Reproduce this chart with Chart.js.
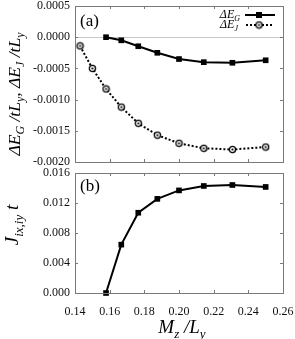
<!DOCTYPE html>
<html><head><meta charset="utf-8">
<script src="https://cdn.jsdelivr.net/npm/chart.js@4"></script>
<style>html,body{margin:0;padding:0;background:#fff}canvas{display:block}</style>
</head><body>
<canvas id="ca" width="295" height="168"></canvas>
<canvas id="cb" width="295" height="171"></canvas>
<script>
// ---- data ----
const mzLy   = [0.1429, 0.1500, 0.1579, 0.1667, 0.1765, 0.1875, 0.2000, 0.2143, 0.2308, 0.2500];
const dEG    = [null, null, 0.00000, -0.00005, -0.000145, -0.00025, -0.00035, -0.00040, -0.00041, -0.00037];
const dEJ    = [-0.00014, -0.00050, -0.00083, -0.00112, -0.00138, -0.00157, -0.00170, -0.00178, -0.00180, -0.00176];
const jIxIy  = [null, null, 0.0000, 0.00645, 0.0107, 0.01255, 0.01368, 0.01427, 0.0144, 0.01414];
const xTickVals  = [0.14, 0.16, 0.18, 0.20, 0.22, 0.24, 0.26];
const yTickValsA = [-0.0020, -0.0015, -0.0010, -0.0005, 0.0000, 0.0005];
const yTickValsB = [0.000, 0.004, 0.008, 0.012, 0.016];

const FF = '"Liberation Serif", "DejaVu Serif", serif';
const BORDER = '#7a7a7a';

function pts(ys){ const o=[]; ys.forEach((y,i)=>{ if(y!==null) o.push({x:mzLy[i], y}); }); return o; }

// circle-with-dot marker
const circ = document.createElement('canvas');
circ.width = 9; circ.height = 9;
(function(){ const c = circ.getContext('2d');
  c.beginPath(); c.arc(4.5,4.5,3.1,0,Math.PI*2); c.fillStyle='#fff'; c.fill();
  c.lineWidth=1.3; c.strokeStyle='#000'; c.stroke();
  c.beginPath(); c.arc(4.5,4.5,1.1,0,Math.PI*2); c.fillStyle='#000'; c.fill(); })();

function rich(ctx, segs, x, y, size, align){
  const fm = `italic ${size}px ${FF}`, fs = `italic ${Math.round(size*0.66)}px ${FF}`;
  let w = 0;
  const ws = segs.map(s => { ctx.font = s[1] ? fs : fm; const m = ctx.measureText(s[0]).width; w += m; return m; });
  let cx = align==='center' ? x - w/2 : (align==='right' ? x - w : x);
  ctx.textAlign='left'; ctx.textBaseline='alphabetic'; ctx.fillStyle='#000';
  segs.forEach((s,i)=>{ ctx.font = s[1] ? fs : fm; ctx.fillText(s[0], cx, y + (s[1] ? size*0.25 : 0)); cx += ws[i]; });
}

const frame = {
  id:'frame',
  afterDatasetsDraw(chart){
    const {ctx, chartArea:a, scales:{x,y}} = chart;
    ctx.save();
    ctx.strokeStyle = BORDER; ctx.lineWidth = 1;
    ctx.strokeRect(Math.round(a.left)+0.5, Math.round(a.top)+0.5, Math.round(a.right-a.left), Math.round(a.bottom-a.top));
    ctx.beginPath();
    x.ticks.forEach(t=>{ const p = Math.round(x.getPixelForValue(t.value))+0.5;
      ctx.moveTo(p, a.bottom); ctx.lineTo(p, a.bottom-3); ctx.moveTo(p, a.top); ctx.lineTo(p, a.top+3); });
    y.ticks.forEach(t=>{ const p = Math.round(y.getPixelForValue(t.value))+0.5;
      ctx.moveTo(a.left, p); ctx.lineTo(a.left+3, p); ctx.moveTo(a.right, p); ctx.lineTo(a.right-3, p); });
    ctx.stroke();
    ctx.restore();
  }
};

function baseOpts(yTicks, fmt, showX, xH, padTop){
  return {
    responsive:false, devicePixelRatio:1, animation:false,
    layout:{padding:{left:0, right:12, top:padTop, bottom:0}},
    plugins:{legend:{display:false}, tooltip:{enabled:false}},
    scales:{
      x:{type:'linear', min:0.14, max:0.26,
         afterBuildTicks(s){ s.ticks = xTickVals.map(v=>({value:v})); },
         afterFit(s){ s.height = xH; s.paddingLeft=0; s.paddingRight=0; },
         grid:{display:false}, border:{display:false},
         ticks:{display:showX, padding:4, maxRotation:0, color:'#111', font:{family:FF, size:12},
                callback:v=>v.toFixed(2)}},
      y:{type:'linear', min:yTicks[0], max:yTicks[yTicks.length-1],
         afterBuildTicks(s){ s.ticks = yTicks.map(v=>({value:v})); },
         afterFit(s){ s.width = 75; s.paddingTop=0; s.paddingBottom=0; },
         border:{display:false},
         grid:{drawTicks:false, lineWidth:1, color:c=> (fmt===4 && Math.abs(c.tick.value)<1e-12) ? '#c8c8c8' : 'rgba(0,0,0,0)'},
         ticks:{padding:5, color:'#111', font:{family:FF, size:12},
                callback:v=> Math.abs(v)<1e-12 ? (0).toFixed(fmt) : v.toFixed(fmt)}}
    }
  };
}

// ---- top panel ----
const optA = baseOpts(yTickValsA, 4, false, 6, 6);
new Chart(document.getElementById('ca'), {
  type:'line',
  data:{datasets:[
    {label:'ΔE_G', data:pts(dEG), borderColor:'#000', backgroundColor:'#000', borderWidth:2,
     pointStyle:'rect', pointRadius:4, pointBorderWidth:0, clip:false, tension:0},
    {label:'ΔE_J', data:pts(dEJ), borderColor:'#000', borderWidth:2, borderDash:[2,2],
     pointStyle:circ, pointRadius:4, clip:false, tension:0}
  ]},
  options:optA,
  plugins:[frame, {id:'decoA', afterDraw(chart){
    const ctx = chart.ctx; ctx.save();
    ctx.font = `17px ${FF}`; ctx.fillStyle='#000'; ctx.textAlign='left'; ctx.textBaseline='alphabetic';
    ctx.fillText('(a)', 80, 26);
    // legend
    rich(ctx, [['ΔE',0],['G',1]], 240, 18, 12, 'right');
    ctx.strokeStyle='#000'; ctx.lineWidth=2; ctx.beginPath(); ctx.moveTo(245,15); ctx.lineTo(275,15); ctx.stroke();
    ctx.fillStyle='#000'; ctx.fillRect(256,12,6,6);
    rich(ctx, [['ΔE',0],['J',1]], 238, 28, 12, 'right');
    ctx.setLineDash([2,2]); ctx.beginPath(); ctx.moveTo(246,25); ctx.lineTo(272,25); ctx.stroke(); ctx.setLineDash([]);
    ctx.drawImage(circ, 259-4.5, 25-4.5);
    // y title
    ctx.translate(20, 94); ctx.rotate(-Math.PI/2);
    rich(ctx, [['ΔE',0],['G',1],[' /tL',0],['y',1],[', ΔE',0],['J',1],[' /tL',0],['y',1]], 0, 0, 17.5, 'center');
    ctx.restore();
  }}]
});

// ---- bottom panel ----
const optB = baseOpts(yTickValsB, 3, true, 46, 5);
new Chart(document.getElementById('cb'), {
  type:'line',
  data:{datasets:[
    {label:'J', data:pts(jIxIy), borderColor:'#000', backgroundColor:'#000', borderWidth:2,
     pointStyle:'rect', pointRadius:4, pointBorderWidth:0, clip:false, tension:0}
  ]},
  options:optB,
  plugins:[frame, {id:'decoB', afterDraw(chart){
    const ctx = chart.ctx; ctx.save();
    ctx.font = `17px ${FF}`; ctx.fillStyle='#000'; ctx.textAlign='left'; ctx.textBaseline='alphabetic';
    ctx.fillText('(b)', 80, 23);
    rich(ctx, [['M',0],['z',1],[' /L',0],['y',1]], 182, 165, 19, 'center');
    ctx.translate(18, 57); ctx.rotate(-Math.PI/2);
    rich(ctx, [['J',0],['ix',1],[',',1],['iy',1],[' t',0]], 0, 0, 19, 'center');
    ctx.restore();
  }}]
});
</script>
</body></html>
